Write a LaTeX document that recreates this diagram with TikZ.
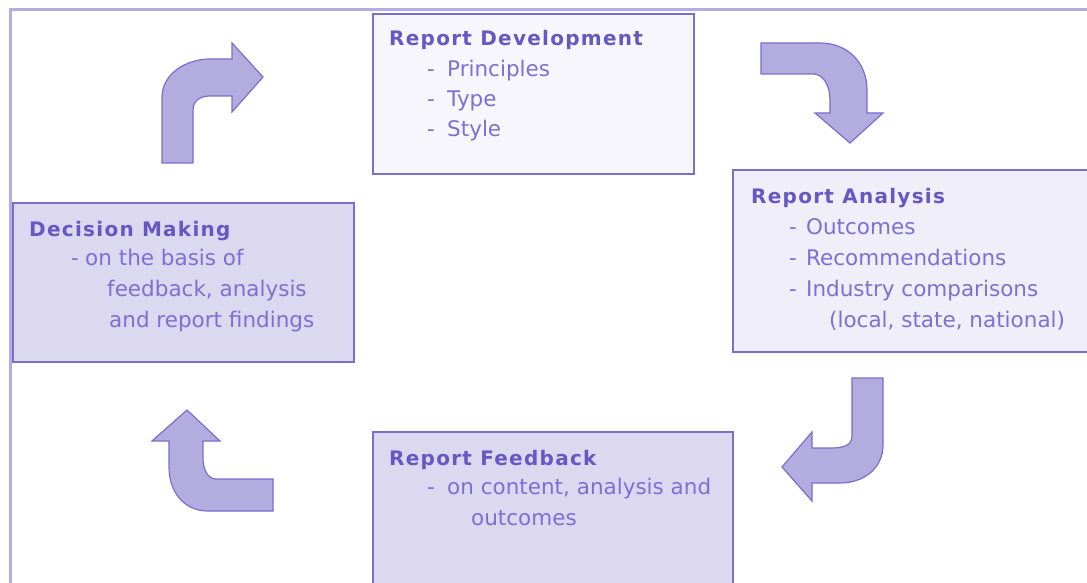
\documentclass[tikz,border=0pt]{standalone}
\usepackage{fontspec}
\setmainfont{DejaVu Sans}
\newfontfamily\titlefont[LetterSpace=6.4]{DejaVu Sans}
\definecolor{framec}{HTML}{B5ADE0}
\definecolor{boxline}{HTML}{7A6ECF}
\definecolor{titlec}{HTML}{6658C2}
\definecolor{itemc}{HTML}{7C71D2}
\definecolor{arrowfill}{HTML}{B3ACDE}
\definecolor{fillA}{HTML}{F7F6FC}
\definecolor{fillB}{HTML}{F0EEF9}
\definecolor{fillC}{HTML}{DCD8F0}
\newcommand{\itm}[2]{\makebox[#1][l]{-}#2}
\begin{document}
\begin{tikzpicture}[x=1pt,y=-1pt,
  boxst/.style={draw=boxline, line width=1.6pt, rectangle, anchor=north west, inner sep=0pt},
  titlest/.style={anchor=base west, inner sep=0pt, text=titlec, font=\titlefont\fontsize{20}{24}\selectfont\bfseries},
  itemst/.style={anchor=base west, inner sep=0pt, text=itemc, font=\fontsize{21.5}{24}\selectfont},
  arrowst/.style={fill=arrowfill, draw=boxline, line width=1.2pt, line join=miter}]
\useasboundingbox (0,0) rectangle (1087,583);
\clip (0,0) rectangle (1087,583);
\fill[white] (0,0) rectangle (1087,583);
% frame
\draw[framec, line width=3pt] (10,583) -- (10,10) -- (1090,10);
% boxes
\node[boxst, fill=fillA, minimum width=321pt, minimum height=160pt] (rd) at (372,13) {};
\node[boxst, fill=fillB, minimum width=370pt, minimum height=182pt] (ra) at (732,169) {};
\node[boxst, fill=fillC, minimum width=341pt, minimum height=159pt] (dm) at (12,202) {};
\node[boxst, fill=fillC, minimum width=360pt, minimum height=200pt] (rf) at (372,431) {};
% Report Development
\node[titlest] (rdt) at (389,46) {Report Development};
\node[itemst] (rd1) at (427,77) {\itm{20pt}{Principles}};
\node[itemst] (rd2) at (427,107) {\itm{20pt}{Type}};
\node[itemst] (rd3) at (427,137) {\itm{20pt}{Style}};
% Report Analysis
\node[titlest] (rat) at (751,204) {Report Analysis};
\node[itemst] (ra1) at (789,234) {\itm{17pt}{Outcomes}};
\node[itemst] (ra2) at (789,265) {\itm{17pt}{Recommendations}};
\node[itemst] (ra3) at (789,296) {\itm{17pt}{Industry comparisons}};
\node[itemst] (ra4) at (829,327) {(local, state, national)};
% Decision Making
\node[titlest] (dmt) at (29,236) {Decision Making};
\node[itemst] (dm1) at (71,265) {\itm{14pt}{on the basis of}};
\node[itemst] (dm2) at (107,296) {feedback, analysis};
\node[itemst] (dm3) at (109,327) {and report findings};
% Report Feedback
\node[titlest] (rft) at (389,465) {Report Feedback};
\node[itemst] (rf1) at (427,494) {\itm{20pt}{on content, analysis and}};
\node[itemst] (rf2) at (471,525) {outcomes};
% arrows
\draw[arrowst] (162,163) -- (162,97) .. controls (162,74) and (186,59) .. (210,59)
  -- (232,59) -- (232,43) -- (263,77) -- (232,112) -- (232,96) -- (210,96)
  .. controls (200,96) and (193,101) .. (193,110) -- (193,163) -- cycle;
\draw[arrowst] (761,43) -- (820,43) .. controls (848,43) and (867,63) .. (867,90)
  -- (867,113) -- (883,113) -- (850,143) -- (815,113) -- (830,113) -- (830,100)
  .. controls (830,85) and (823,74) .. (813,74) -- (761,74) -- cycle;
\draw[arrowst] (852,378) -- (883,378) -- (883,445) .. controls (883,468) and (864,483) .. (840,483)
  -- (812,483) -- (812,501) -- (782,467) -- (812,432) -- (812,448) -- (832,448)
  .. controls (845,448) and (852,444) .. (852,437) -- cycle;
\draw[arrowst] (273,479) -- (273,511) -- (208,511) .. controls (184,511) and (169,492) .. (169,467)
  -- (169,441) -- (152,441) -- (187,410) -- (220,441) -- (203,441) -- (203,458)
  .. controls (203,470) and (208,479) .. (216,479) -- cycle;
\end{tikzpicture}
\end{document}
